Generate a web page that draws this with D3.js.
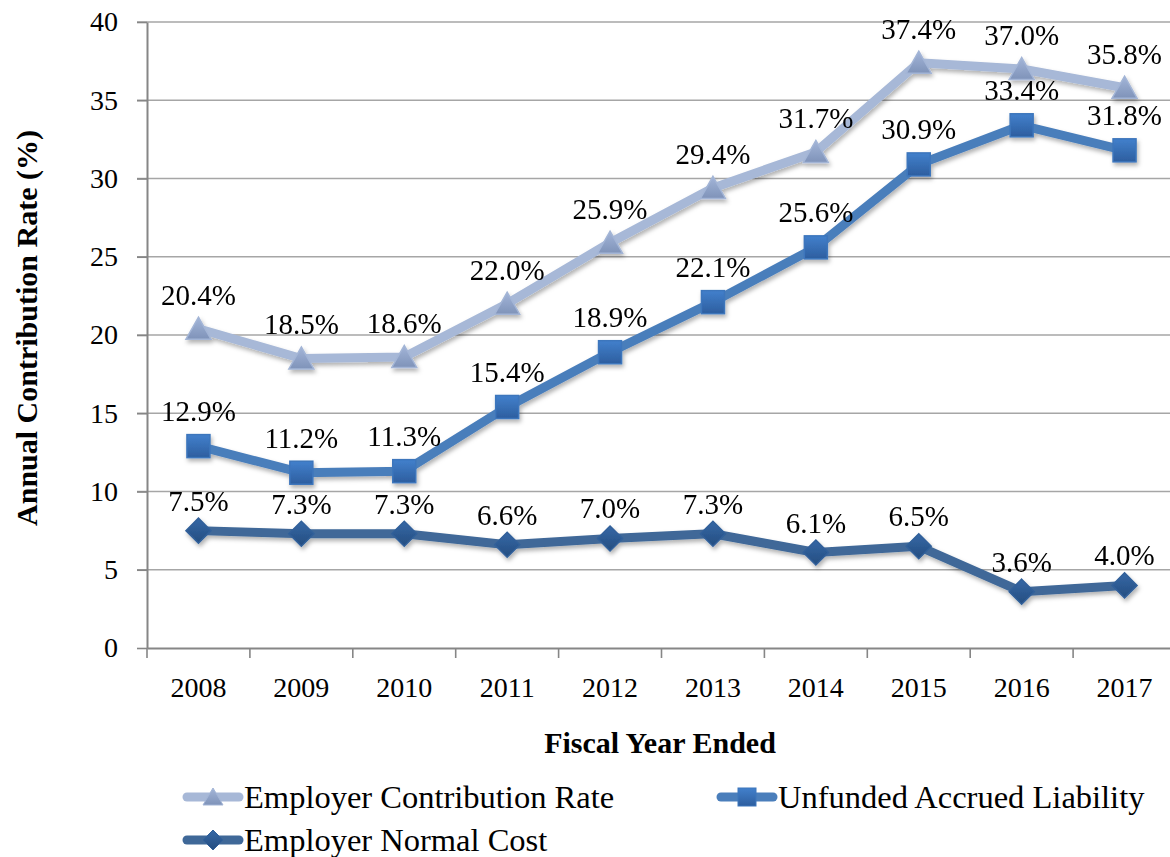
<!DOCTYPE html>
<html>
<head>
<meta charset="utf-8">
<script src="https://cdn.jsdelivr.net/npm/d3@7"></script>
<style>
  html, body { margin: 0; padding: 0; background: #fff; }
  svg { display: block; }
</style>
</head>
<body>
<div id="chart"></div>
<script>
// datos del grafico
const years = ["2008", "2009", "2010", "2011", "2012", "2013", "2014", "2015", "2016", "2017"];
const employerRate = [20.4, 18.5, 18.6, 22.0, 25.9, 29.4, 31.7, 37.4, 37.0, 35.8];
const unfundedLiability = [12.9, 11.2, 11.3, 15.4, 18.9, 22.1, 25.6, 30.9, 33.4, 31.8];
const normalCost = [7.5, 7.3, 7.3, 6.6, 7.0, 7.3, 6.1, 6.5, 3.6, 4.0];
const yTicks = [0, 5, 10, 15, 20, 25, 30, 35, 40];

const WIDTH = 1170;
const HEIGHT = 857;
const FONT = "'Liberation Serif', 'Times New Roman', serif";

const series = [
  { name: "Employer Contribution Rate", values: employerRate, line: "#A7B8D7", fill: ["#A3B5D8", "#7F93B9"], stroke: "#A3B5D6", shape: "triangle", lift: 24 },
  { name: "Unfunded Accrued Liability", values: unfundedLiability, line: "#4A7EBB", fill: ["#4280CC", "#2D5E9F"], stroke: "#3D76BC", shape: "square", lift: 25 },
  { name: "Employer Normal Cost", values: normalCost, line: "#3F6898", fill: ["#3568A6", "#254D80"], stroke: "#31609A", shape: "diamond", lift: 20 }
];

const svg = d3.select("#chart")
  .append("svg")
  .attr("width", WIDTH)
  .attr("height", HEIGHT)
  .style("font-family", FONT);

const defs = svg.append("defs");

// sombra de las lineas y marcadores
const shadow = defs.append("filter")
  .attr("id", "shadow")
  .attr("x", "-20%").attr("y", "-20%")
  .attr("width", "140%").attr("height", "160%");
shadow.append("feDropShadow")
  .attr("dx", 1.5).attr("dy", 3)
  .attr("stdDeviation", 2)
  .attr("flood-color", "#000")
  .attr("flood-opacity", 0.3);

series.forEach((s, i) => {
  const g = defs.append("linearGradient")
    .attr("id", "grad" + i)
    .attr("x1", 0).attr("y1", 0).attr("x2", 0).attr("y2", 1);
  g.append("stop").attr("offset", "0%").attr("stop-color", s.fill[0]);
  g.append("stop").attr("offset", "100%").attr("stop-color", s.fill[1]);
});

// escalas
const x = d3.scaleBand()
  .domain(years)
  .range([147, 1176]);

const y = d3.scaleLinear()
  .domain([0, 40])
  .range([648, 22]);

const cx = d => x(d) + x.bandwidth() / 2;

// lineas de grilla
svg.append("g")
  .attr("id", "grid")
  .selectAll("line")
  .data(yTicks.filter(t => t > 0))
  .join("line")
  .attr("x1", 137)
  .attr("x2", WIDTH)
  .attr("y1", d => y(d))
  .attr("y2", d => y(d))
  .attr("stroke", "#A6A6A6")
  .attr("stroke-width", 1.6);

// eje Y
const yaxis = svg.append("g")
  .attr("transform", "translate(147,0)")
  .call(d3.axisLeft(y).tickValues(yTicks).tickSize(10).tickPadding(19).tickSizeOuter(0));
yaxis.select(".domain").attr("stroke", "#868686").attr("stroke-width", 2);
yaxis.selectAll(".tick line").attr("stroke", "#868686").attr("stroke-width", 1.6);
yaxis.selectAll(".tick text")
  .style("font-family", FONT)
  .attr("font-size", 28)
  .attr("fill", "#000");

// eje X
const xaxis = svg.append("g")
  .attr("transform", "translate(0,648)")
  .call(d3.axisBottom(x).tickSize(0).tickSizeOuter(0));
xaxis.select(".domain").attr("stroke", "#868686").attr("stroke-width", 2);
xaxis.selectAll(".tick text")
  .style("font-family", FONT)
  .attr("font-size", 28)
  .attr("fill", "#000")
  .attr("y", 49)
  .attr("dy", 0);

// marcas entre categorias
svg.append("g")
  .selectAll("line")
  .data(years)
  .join("line")
  .attr("x1", d => x(d))
  .attr("x2", d => x(d))
  .attr("y1", 648)
  .attr("y2", 658)
  .attr("stroke", "#868686")
  .attr("stroke-width", 1.6);

// titulos de ejes
svg.append("text")
  .attr("x", 660)
  .attr("y", 753)
  .attr("text-anchor", "middle")
  .attr("font-weight", "bold")
  .attr("font-size", 30)
  .text("Fiscal Year Ended");

svg.append("text")
  .attr("transform", "translate(37,328) rotate(-90)")
  .attr("text-anchor", "middle")
  .attr("font-weight", "bold")
  .attr("font-size", 30)
  .text("Annual Contribution Rate (%)");

// marcadores
function marker(sel, shape, size) {
  const h = size / 2;
  if (shape === "triangle") {
    sel.append("path").attr("d", `M0,${-h}L${h + 1},${h - 1}L${-h - 1},${h - 1}Z`);
  } else if (shape === "square") {
    sel.append("rect").attr("x", -h).attr("y", -h).attr("width", size).attr("height", size);
  } else {
    sel.append("path").attr("d", `M0,${-h - 1}L${h + 1},0L0,${h + 1}L${-h - 1},0Z`);
  }
}

const line = d3.line()
  .x(d => cx(d.year))
  .y(d => y(d.value));

const plot = svg.append("g").attr("id", "series");

series.forEach((s, i) => {
  const pts = years.map((yr, k) => ({ year: yr, value: s.values[k] }));
  const g = plot.append("g").attr("filter", "url(#shadow)");

  g.append("path")
    .datum(pts)
    .attr("d", line)
    .attr("fill", "none")
    .attr("stroke", s.line)
    .attr("stroke-width", 9)
    .attr("stroke-linejoin", "round");

  g.selectAll("g.pt")
    .data(pts)
    .join("g")
    .attr("class", "pt")
    .attr("transform", d => `translate(${cx(d.year)},${y(d.value)})`)
    .each(function () { marker(d3.select(this), s.shape, 23); })
    .selectAll("path, rect")
    .attr("fill", `url(#grad${i})`)
    .attr("stroke", s.stroke)
    .attr("stroke-width", 1.5);
});

// etiquetas de datos
series.forEach(s => {
  plot.append("g")
    .selectAll("text")
    .data(years.map((yr, k) => ({ year: yr, value: s.values[k] })))
    .join("text")
    .attr("x", d => cx(d.year))
    .attr("y", d => y(d.value) - s.lift)
    .attr("text-anchor", "middle")
    .attr("font-size", 29)
    .attr("fill", "#000")
    .text(d => d.value.toFixed(1) + "%");
});

// leyenda
const legendPos = [[183, 797], [717, 797], [183, 840]];
series.forEach((s, i) => {
  const [lx, ly] = legendPos[i];
  const g = svg.append("g").attr("transform", `translate(${lx},${ly})`);
  g.append("line")
    .attr("x1", 4).attr("x2", 56)
    .attr("y1", 0).attr("y2", 0)
    .attr("stroke", s.line)
    .attr("stroke-width", 9)
    .attr("stroke-linecap", "round");
  const m = g.append("g").attr("transform", "translate(30,0)");
  marker(m, s.shape, 18);
  m.selectAll("path, rect")
    .attr("fill", `url(#grad${i})`)
    .attr("stroke", s.stroke)
    .attr("stroke-width", 1);
  g.append("text")
    .attr("x", 61)
    .attr("y", 11)
    .attr("font-size", 32.5)
    .attr("fill", "#000")
    .text(s.name);
});
</script>
</body>
</html>
